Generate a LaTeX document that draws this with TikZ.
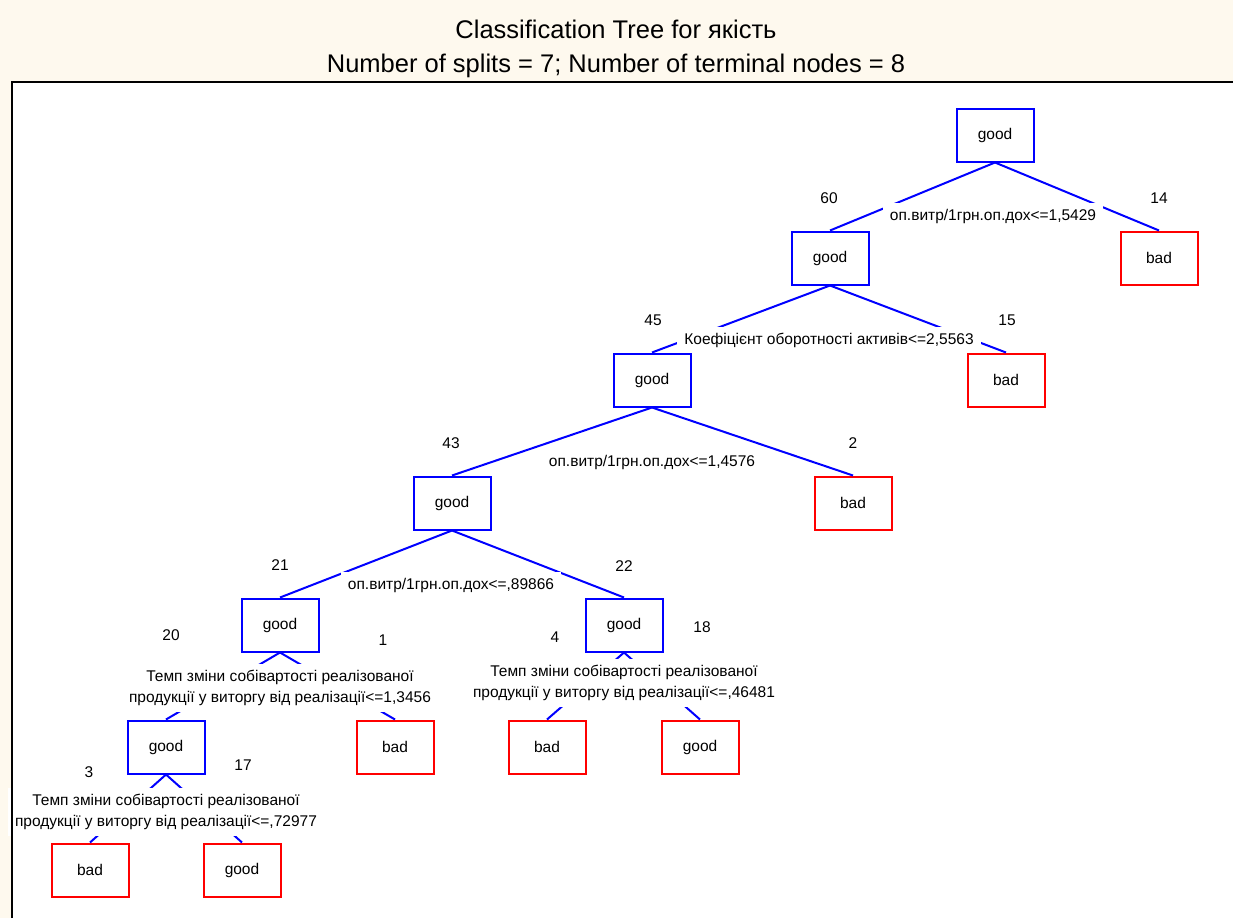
\documentclass[tikz,border=0pt]{standalone}
\usepackage{fontspec}
\setmainfont{Liberation Sans}
\usepackage{xcolor}
\definecolor{cream}{RGB}{254,249,238}

\begin{document}
\begin{tikzpicture}[x=1pt,y=-1pt,
  box/.style={draw,line width=2pt,minimum width=77pt,minimum height=53pt,
    font=\fontsize{15.5}{19}\selectfont},
  goodbox/.style={box,draw=blue},
  badbox/.style={box,draw=red},
  branch/.style={blue,line width=2pt},
  split/.style={fill=white,inner xsep=7pt,inner ysep=6pt,align=center,
    font=\fontsize{15.5}{21}\selectfont},
  count/.style={font=\fontsize{15.5}{19}\selectfont}]
\useasboundingbox (0,0) rectangle (1233,918);
% frame
\fill[cream] (0,0) rectangle (1233,918);
\fill[white] (12,82) rectangle (1233,918);
% title
\node[anchor=base,font=\fontsize{25.5}{30}\selectfont] (title) at (616,38)
  {Classification Tree for якість};
\node[anchor=base,font=\fontsize{25.5}{30}\selectfont] (subtitle) at (616,72)
  {Number of splits = 7; Number of terminal nodes = 8};
% boxes
\node[goodbox] (root) at (995,135) {good};
\node[goodbox] (g60) at (830,258) {good};
\node[badbox]  (b14) at (1159,258) {bad};
\node[goodbox] (g45) at (652,380) {good};
\node[badbox]  (b15) at (1006,380) {bad};
\node[goodbox] (g43) at (452,503) {good};
\node[badbox]  (b2)  at (853,503) {bad};
\node[goodbox] (g21) at (280,625) {good};
\node[goodbox] (g22) at (624,625) {good};
\node[goodbox] (g20) at (166,747) {good};
\node[badbox]  (b1)  at (395,747) {bad};
\node[badbox]  (b4)  at (547,747) {bad};
\node[badbox]  (t18) at (700,747) {good};
\node[badbox]  (b3)  at (90,870) {bad};
\node[badbox]  (t17) at (242,870) {good};
% branches
\foreach \a/\b in {root/g60,root/b14,g60/g45,g60/b15,g45/g43,g45/b2,
    g43/g21,g43/g22,g21/g20,g21/b1,g22/b4,g22/t18,g20/b3,g20/t17}
  \draw[branch] (\a.south) -- (\b.north);
% splits
\node[split] (s1) at (993,216) {оп.витр/1грн.оп.дох<=1,5429};
\node[split] (s2) at (829,340) {Коефіцієнт оборотності активів<=2,5563};
\node[split] (s3) at (652,462) {оп.витр/1грн.оп.дох<=1,4576};
\node[split] (s4) at (451,585) {оп.витр/1грн.оп.дох<=,89866};
\node[split] (s5) at (280,688) {Темп зміни собівартості реалізованої\\
  продукції у виторгу від реалізації<=1,3456};
\node[split] (s6) at (624,683) {Темп зміни собівартості реалізованої\\
  продукції у виторгу від реалізації<=,46481};
\node[split] (s7) at (166,812) {Темп зміни собівартості реалізованої\\
  продукції у виторгу від реалізації<=,72977};
% counts
\node[count] (n60) at (829,198) {60};
\node[count] (n14) at (1159,198) {14};
\node[count] (n45) at (653,320) {45};
\node[count] (n15) at (1007,320) {15};
\node[count] (n43) at (451,443) {43};
\node[count] (n2)  at (853,443) {2};
\node[count] (n21) at (280,565) {21};
\node[count] (n22) at (624,566) {22};
\node[count] (n20) at (171,635) {20};
\node[count] (n1)  at (383,640) {1};
\node[count] (n4)  at (555,637) {4};
\node[count] (n18) at (702,627) {18};
\node[count] (n3)  at (89,772) {3};
\node[count] (n17) at (243,765) {17};
% frame edge
\draw[line width=2pt] (12,918) -- (12,82) -- (1233,82);
\end{tikzpicture}
\end{document}
